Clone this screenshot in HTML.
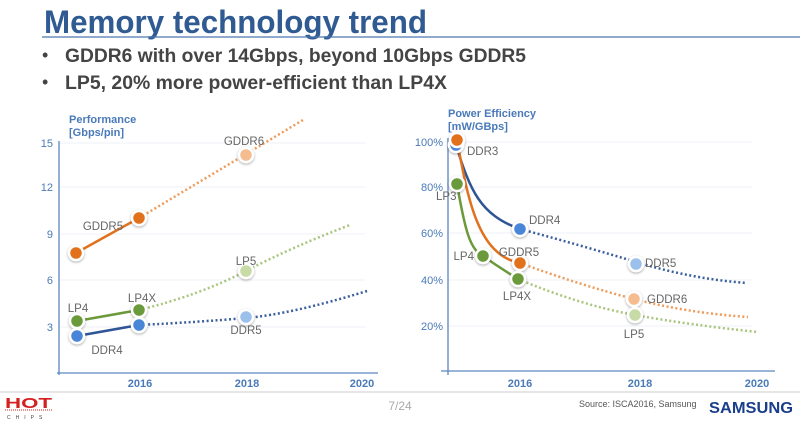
<!DOCTYPE html>
<html><head><meta charset="utf-8"><style>
html,body{margin:0;padding:0;background:#fff;}
body{width:800px;height:421px;overflow:hidden;position:relative;font-family:"Liberation Sans",sans-serif;}
</style></head><body>
<svg width="800" height="421" viewBox="0 0 800 421" xmlns="http://www.w3.org/2000/svg" font-family="Liberation Sans, sans-serif">
<defs>
<filter id="sh" x="-50%" y="-50%" width="200%" height="200%"><feDropShadow dx="0" dy="1" stdDeviation="1.2" flood-color="#000" flood-opacity="0.35"/></filter>
</defs>
<text x="44" y="33" font-size="32" font-weight="bold" fill="#2f5a92" textLength="383" lengthAdjust="spacingAndGlyphs">Memory technology trend</text>
<line x1="42" y1="37" x2="800" y2="37" stroke="#4d78b0" stroke-width="1.2"/>
<text x="42" y="61" font-size="18" fill="#444">•</text>
<text x="65" y="62" font-size="19" font-weight="bold" fill="#444" textLength="461" lengthAdjust="spacingAndGlyphs">GDDR6 with over 14Gbps, beyond 10Gbps GDDR5</text>
<text x="42" y="88" font-size="18" fill="#444">•</text>
<text x="65" y="89" font-size="19" font-weight="bold" fill="#444" textLength="382" lengthAdjust="spacingAndGlyphs">LP5, 20% more power-efficient than LP4X</text>

<!-- Left chart -->
<g font-size="11" fill="#4a7ab8">
<text x="69" y="123" font-weight="bold">Performance</text>
<text x="69" y="136" font-weight="bold">[Gbps/pin]</text>
</g>
<g stroke="#eef2f7" stroke-width="1">
<line x1="60" y1="143" x2="365" y2="143"/><line x1="60" y1="187" x2="365" y2="187"/><line x1="60" y1="234" x2="365" y2="234"/><line x1="60" y1="280" x2="365" y2="280"/><line x1="60" y1="327" x2="365" y2="327"/>
</g>
<line x1="59" y1="141" x2="59" y2="375" stroke="#5b86c0" stroke-width="1.3"/>
<line x1="57" y1="373" x2="378" y2="373" stroke="#5b86c0" stroke-width="1.3"/>
<g font-size="11" fill="#4a7ab8" text-anchor="end">
<text x="53" y="147">15</text><text x="53" y="191">12</text><text x="53" y="238">9</text><text x="53" y="284">6</text><text x="53" y="331">3</text>
</g>
<g font-size="11" fill="#4a7ab8" font-weight="bold" text-anchor="middle">
<text x="140" y="387">2016</text><text x="247" y="387">2018</text><text x="362" y="387">2020</text>
</g>
<g fill="none" stroke-width="2.5">
<path d="M76,253 L139,218" stroke="#e2711d"/>
<path d="M139,218 L303,120" stroke="#ee9b5a" stroke-dasharray="2,2.5"/>
<path d="M77,321 L139,310" stroke="#6b9a3a"/>
<path d="M139,310 Q200,295 246,271 T350,225" stroke="#a9c57e" stroke-dasharray="2,2.5"/>
<path d="M77,336 L139,325" stroke="#2f5597"/>
<path d="M139,325 Q200,322 246,318 T367,291" stroke="#3b5f9e" stroke-dasharray="2,2.5"/>
</g>
<g stroke="#fff" stroke-width="2.5" filter="url(#sh)">
<circle cx="76" cy="253" r="7" fill="#e2711d"/>
<circle cx="139" cy="218" r="7" fill="#e2711d"/>
<circle cx="246" cy="155" r="7" fill="#f5bc90"/>
<circle cx="246" cy="271" r="7" fill="#c8dba6"/>
<circle cx="77" cy="321" r="7" fill="#6b9a3a"/>
<circle cx="139" cy="310" r="7" fill="#6b9a3a"/>
<circle cx="77" cy="336" r="7" fill="#4a86d8"/>
<circle cx="139" cy="325" r="7" fill="#4a86d8"/>
<circle cx="246" cy="317" r="7" fill="#9cc0ec"/>
</g>
<g font-size="11.5" fill="#666" text-anchor="middle">
<text x="244" y="145">GDDR6</text>
<text x="103" y="230">GDDR5</text>
<text x="246" y="265">LP5</text>
<text x="142" y="302">LP4X</text>
<text x="78" y="312">LP4</text>
<text x="107" y="354">DDR4</text>
<text x="246" y="334">DDR5</text>
</g>

<!-- Right chart -->
<g font-size="11" fill="#4a7ab8">
<text x="448" y="117" font-weight="bold">Power Efficiency</text>
<text x="448" y="130" font-weight="bold">[mW/GBps]</text>
</g>
<g stroke="#eef2f7" stroke-width="1">
<line x1="449" y1="142" x2="752" y2="142"/><line x1="449" y1="187" x2="752" y2="187"/><line x1="449" y1="233" x2="752" y2="233"/><line x1="449" y1="280" x2="752" y2="280"/><line x1="449" y1="326" x2="752" y2="326"/>
</g>
<line x1="448" y1="138" x2="448" y2="375" stroke="#5b86c0" stroke-width="1.3"/>
<line x1="441" y1="371" x2="775" y2="371" stroke="#5b86c0" stroke-width="1.3"/>
<g font-size="11" fill="#4a7ab8" text-anchor="end">
<text x="443" y="146">100%</text><text x="443" y="191">80%</text><text x="443" y="237">60%</text><text x="443" y="284">40%</text><text x="443" y="330">20%</text>
</g>
<g font-size="11" fill="#4a7ab8" font-weight="bold" text-anchor="middle">
<text x="520" y="387">2016</text><text x="640" y="387">2018</text><text x="757" y="387">2020</text>
</g>
<g fill="none" stroke-width="2.5">
<path d="M456,145 C470,190 480,215 520,229" stroke="#2f5597"/>
<path d="M520,229 Q580,245 636,262 T747,283" stroke="#3b5f9e" stroke-dasharray="2,2.5"/>
<path d="M457,140 C468,200 478,255 520,263" stroke="#e2711d"/>
<path d="M520,263 Q580,285 634,299 T748,317" stroke="#ee9b5a" stroke-dasharray="2,2.5"/>
<path d="M457,184 C465,230 470,250 483,256 Q500,268 518,279" stroke="#6b9a3a"/>
<path d="M518,279 Q580,305 635,315 T758,332" stroke="#a9c57e" stroke-dasharray="2,2.5"/>
</g>
<g stroke="#fff" stroke-width="2.5" filter="url(#sh)">
<circle cx="456" cy="145" r="7" fill="#4a86d8"/>
<circle cx="457" cy="140" r="7" fill="#e2711d"/>
<circle cx="457" cy="184" r="7" fill="#6b9a3a"/>
<circle cx="520" cy="229" r="7" fill="#4a86d8"/>
<circle cx="520" cy="263" r="7" fill="#e2711d"/>
<circle cx="483" cy="256" r="7" fill="#6b9a3a"/>
<circle cx="518" cy="279" r="7" fill="#6b9a3a"/>
<circle cx="636" cy="264" r="7" fill="#9cc0ec"/>
<circle cx="634" cy="299" r="7" fill="#f5bc90"/>
<circle cx="635" cy="315" r="7" fill="#c8dba6"/>
</g>
<g font-size="11.5" fill="#666">
<text x="467" y="155">DDR3</text>
<text x="436" y="200">LP3</text>
<text x="529" y="224">DDR4</text>
<text x="519" y="256" text-anchor="middle">GDDR5</text>
<text x="474" y="260" text-anchor="end">LP4</text>
<text x="517" y="300" text-anchor="middle">LP4X</text>
<text x="645" y="267">DDR5</text>
<text x="647" y="303">GDDR6</text>
<text x="634" y="338" text-anchor="middle">LP5</text>
</g>

<!-- Footer -->
<line x1="0" y1="392" x2="800" y2="392" stroke="#d8d8d8" stroke-width="1.2"/>
<text x="5" y="408" font-size="15" font-weight="bold" fill="#d42020" font-family="Liberation Sans, sans-serif" textLength="47" lengthAdjust="spacingAndGlyphs">HOT</text>
<line x1="5" y1="410" x2="52" y2="410" stroke="#d42020" stroke-width="1" stroke-dasharray="1,1"/>
<text x="7" y="419" font-size="5" fill="#444" letter-spacing="5">CHIPS</text>
<text x="400" y="410" font-size="12" fill="#aaa" text-anchor="middle">7/24</text>
<text x="579" y="407" font-size="9" fill="#555">Source: ISCA2016, Samsung</text>
<text x="709" y="413" font-size="16" font-weight="bold" fill="#1a3e8c" textLength="84" lengthAdjust="spacingAndGlyphs">SAMSUNG</text>
</svg>
</body></html>
